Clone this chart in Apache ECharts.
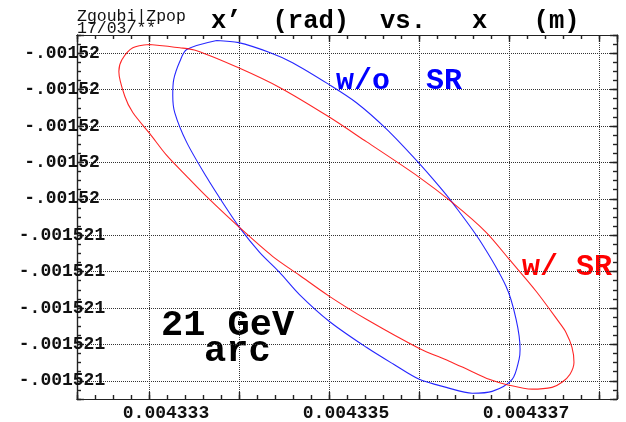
<!DOCTYPE html>
<html>
<head>
<meta charset="utf-8">
<script src="https://cdn.jsdelivr.net/npm/echarts@6/dist/echarts.min.js"></script>
<style>
  html, body { margin: 0; padding: 0; background: #fff; }
  #chart { width: 626px; height: 422px; }
</style>
</head>
<body>
<div id="chart"></div>
<script>
// x in micrometres (axis printed in m), x' in microradians (axis printed in rad)
// w/o SR ellipse, points read round the contour
const blueX = [4333.752, 4333.996, 4334.340, 4334.595, 4334.994, 4335.305, 4335.637, 4335.992,
  4336.225, 4336.369, 4336.669, 4336.968, 4337.079, 4337.123, 4337.112, 4337.035, 4336.813,
  4336.591, 4336.303, 4336.003, 4335.714, 4335.415, 4335.005, 4334.672, 4334.451, 4334.229, 4334.007,
  4333.818, 4333.641, 4333.419, 4333.286, 4333.264, 4333.275, 4333.342, 4333.419]
const blueY = [-1520.4465, -1520.4471, -1520.4498, -1520.4526, -1520.4585, -1520.4636, -1520.4708, -1520.4800,
  -1520.4866, -1520.4910, -1520.5012, -1520.5141, -1520.5231, -1520.5313, -1520.5341, -1520.5396, -1520.5429,
  -1520.5434, -1520.5418, -1520.5396, -1520.5354, -1520.5308, -1520.5237, -1520.5163, -1520.5102, -1520.5047, -1520.4979,
  -1520.4910, -1520.4841, -1520.4745, -1520.4663, -1520.4616, -1520.4572, -1520.4523, -1520.4490]

// w/ SR ellipse
const redX = [4333.009, 4333.342, 4333.530, 4333.996, 4334.451, 4334.994, 4335.415, 4335.992,
  4336.369, 4336.746, 4337.001, 4337.301, 4337.556, 4337.633, 4337.700, 4337.722, 4337.678, 4337.589,
  4337.478, 4337.256, 4336.968, 4336.780, 4336.558, 4336.336, 4336.003, 4335.415, 4335.005, 4334.672, 4334.373,
  4334.007, 4333.641, 4333.430, 4333.197, 4333.009, 4332.820, 4332.732, 4332.665, 4332.699, 4332.820]
const redY = [-1520.4476, -1520.4485, -1520.4493, -1520.4540, -1520.4594, -1520.4674, -1520.4743, -1520.4839,
  -1520.4910, -1520.4992, -1520.5066, -1520.5154, -1520.5239, -1520.5267, -1520.5308, -1520.5349, -1520.5382, -1520.5404,
  -1520.5418, -1520.5423, -1520.5410, -1520.5396, -1520.5371, -1520.5346, -1520.5311, -1520.5231, -1520.5168, -1520.5110, -1520.5058,
  -1520.4979, -1520.4894, -1520.4841, -1520.4781, -1520.4721, -1520.4663, -1520.4619, -1520.4550, -1520.4518, -1520.4485]

const xTickValues = [4333, 4335, 4337]
const xTickLabels = ['0.004333', '0.004335', '0.004337']
const yTickValues = [-1520.45, -1520.46, -1520.47, -1520.48, -1520.49,
  -1520.50, -1520.51, -1520.52, -1520.53, -1520.54]
const yTickLabels = ['-.00152', '-.00152', '-.00152', '-.00152', '-.00152',
  '-.001521', '-.001521', '-.001521', '-.001521', '-.001521']

const xMin = 4332.2, xMax = 4338.2
const yMin = -1520.545, yMax = -1520.445

const mono = "'Liberation Mono', 'DejaVu Sans Mono', monospace"
const frameColor = '#222'
const tickStyle = { color: '#222', width: 1.4 }

function closeLoop(xs, ys) {
  let pts = xs.map((x, i) => [x, ys[i]])
  pts.push(pts[0])
  return pts
}

function pickLabel(values, labels, v) {
  for (let i = 0; i < values.length; i++) {
    if (Math.abs(values[i] - v) < 1e-6) return labels[i]
  }
  return ''
}

// major axes: ticks, grid lines, labels
function majorX(pos, withLabels) {
  return {
    type: 'value', gridIndex: 0, position: pos,
    min: xMin, max: xMax, minInterval: 1, maxInterval: 1,
    axisLine: { show: true, lineStyle: { color: frameColor, width: 1.2 } },
    axisTick: { show: true, inside: true, length: 7, lineStyle: tickStyle },
    axisLabel: {
      show: withLabels, margin: 5, padding: [0, 0, 0, 34],
      fontFamily: mono, fontWeight: 'bold', fontSize: 18, color: '#111',
      formatter: v => pickLabel(xTickValues, xTickLabels, v)
    },
    splitLine: { show: withLabels, lineStyle: { color: '#333', type: 'dotted', width: 1 } }
  }
}
function majorY(pos, withLabels) {
  return {
    type: 'value', gridIndex: 0, position: pos,
    min: yMin, max: yMax, minInterval: 0.01, maxInterval: 0.01,
    axisLine: { show: true, lineStyle: { color: frameColor, width: 1.2 } },
    axisTick: { show: true, inside: true, length: 7, lineStyle: tickStyle },
    axisLabel: {
      show: withLabels, margin: 15, align: 'center',
      fontFamily: mono, fontWeight: 'bold', fontSize: 18, color: '#111',
      formatter: v => pickLabel(yTickValues, yTickLabels, v)
    },
    splitLine: { show: withLabels, lineStyle: { color: '#333', type: 'dotted', width: 1 } }
  }
}
// minor axes: only the short ticks
function minorAxis(pos, min, max, step) {
  return {
    type: 'value', gridIndex: 1, position: pos,
    min: min, max: max, interval: step,
    axisLine: { show: true, lineStyle: { color: frameColor, width: 1.2 } },
    axisTick: { show: true, inside: true, length: 4, lineStyle: tickStyle },
    axisLabel: { show: false },
    splitLine: { show: false }
  }
}

const chart = echarts.init(document.getElementById('chart'), null, { renderer: 'canvas' })

const rect = { left: 77, top: 35, width: 540, height: 364 }

chart.setOption({
  animation: false,
  backgroundColor: '#fff',
  grid: [
    Object.assign({}, rect),
    Object.assign({}, rect)
  ],
  xAxis: [
    majorX('bottom', true),
    majorX('top', false),
    minorAxis('bottom', xMin, xMax, 0.2),
    minorAxis('top', xMin, xMax, 0.2)
  ],
  yAxis: [
    majorY('left', true),
    majorY('right', false),
    minorAxis('left', yMin, yMax, 0.0025),
    minorAxis('right', yMin, yMax, 0.0025)
  ],
  series: [{
    name: 'w/o SR', type: 'line', xAxisIndex: 0, yAxisIndex: 0,
    data: closeLoop(blueX, blueY), smooth: 0.3, showSymbol: false,
    lineStyle: { color: '#0000ff', width: 1.1, opacity: 0.85 }
  }, {
    name: 'w/ SR', type: 'line', xAxisIndex: 0, yAxisIndex: 0,
    data: closeLoop(redX, redY), smooth: 0.3, showSymbol: false,
    lineStyle: { color: '#ff0000', width: 1.1, opacity: 0.85 }
  }],
  graphic: [
    { type: 'text', x: 77, y: 17, style: { text: 'Zgoubi|Zpop', font: '16.5px ' + mono, fill: '#111', align: 'left', verticalAlign: 'middle' } },
    { type: 'text', x: 77, y: 28.5, style: { text: '17/03/**', font: '16.5px ' + mono, fill: '#111', align: 'left', verticalAlign: 'middle' } },
    { type: 'text', x: 211, y: 22, style: { text: 'x\u2019  (rad)  vs.   x   (m)', font: 'bold 25.6px ' + mono, fill: '#000', align: 'left', verticalAlign: 'middle' } },
    { type: 'text', x: 336, y: 81, style: { text: 'w/o  SR', font: 'bold 30px ' + mono, fill: '#0000ff', align: 'left', verticalAlign: 'middle' } },
    { type: 'text', x: 522, y: 267.5, style: { text: 'w/ SR', font: 'bold 30px ' + mono, fill: '#ff0000', align: 'left', verticalAlign: 'middle' } },
    { type: 'text', x: 161, y: 326, style: { text: '21 GeV', font: 'bold 37px ' + mono, fill: '#000', align: 'left', verticalAlign: 'middle' } },
    { type: 'text', x: 204, y: 352, style: { text: 'arc', font: 'bold 37px ' + mono, fill: '#000', align: 'left', verticalAlign: 'middle' } }
  ]
})
</script>
</body>
</html>
